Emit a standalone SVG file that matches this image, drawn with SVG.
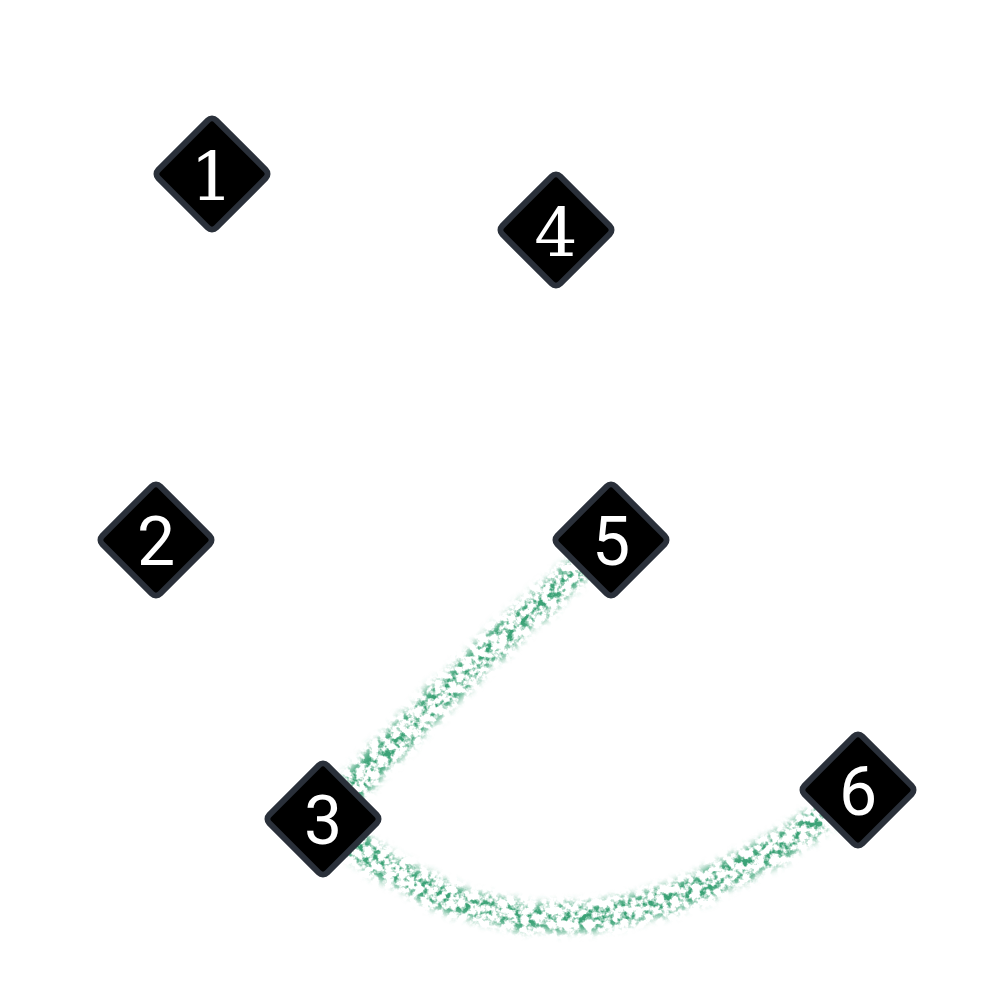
<svg xmlns="http://www.w3.org/2000/svg" width="1000" height="1000" viewBox="0 0 1000 1000">
<style>
.node rect{fill:#000;stroke:#2a303a;stroke-width:6}
.node text{fill:#fff;font-size:68px;text-anchor:middle;dominant-baseline:central}
.sans{font-family:Roboto,"Liberation Sans",sans-serif}
.serif{font-family:"DejaVu Serif","Liberation Serif",serif}
.edge{fill:none;stroke:#3aa276;stroke-width:28;filter:url(#spray)}
</style>
<defs>
<filter id="spray" filterUnits="userSpaceOnUse" x="0" y="0" width="1000" height="1000">
<feTurbulence type="fractalNoise" baseFrequency="0.05" numOctaves="1" seed="3" result="w"/>
<feDisplacementMap in="SourceGraphic" in2="w" scale="10" xChannelSelector="R" yChannelSelector="G" result="d"/>
<feGaussianBlur in="d" stdDeviation="4" result="b"/>
<feTurbulence type="fractalNoise" baseFrequency="0.14" numOctaves="3" seed="7" result="n"/>
<feColorMatrix in="n" type="matrix" values="0 0 0 0 0  0 0 0 0 0  0 0 0 0 0  4.5 0 0 0 -2.05" result="m"/>
<feComposite in="b" in2="m" operator="in"/>
</filter>
</defs>
<rect width="1000" height="1000" fill="#fff"/>
<g id="connectors">
<path class="edge" d="M323,819 Q450,680 611,540"/>
<path class="edge" d="M323,819 Q560,1030 858,790"/>
</g>
<g id="node1" class="node"><rect x="-41" y="-41" width="82" height="82" rx="6" transform="translate(212,174) rotate(45)"/><text class="serif" x="212" y="176">1</text></g>
<g id="node2" class="node"><rect x="-41" y="-41" width="82" height="82" rx="6" transform="translate(156,540) rotate(45)"/><text class="sans" x="156" y="542">2</text></g>
<g id="node3" class="node"><rect x="-41" y="-41" width="82" height="82" rx="6" transform="translate(323,819) rotate(45)"/><text class="sans" x="323" y="821">3</text></g>
<g id="node4" class="node"><rect x="-41" y="-41" width="82" height="82" rx="6" transform="translate(556,230) rotate(45)"/><text class="serif" x="556" y="232">4</text></g>
<g id="node5" class="node"><rect x="-41" y="-41" width="82" height="82" rx="6" transform="translate(611,540) rotate(45)"/><text class="sans" x="611" y="542">5</text></g>
<g id="node6" class="node"><rect x="-41" y="-41" width="82" height="82" rx="6" transform="translate(858,790) rotate(45)"/><text class="sans" x="858" y="792">6</text></g>
</svg>
